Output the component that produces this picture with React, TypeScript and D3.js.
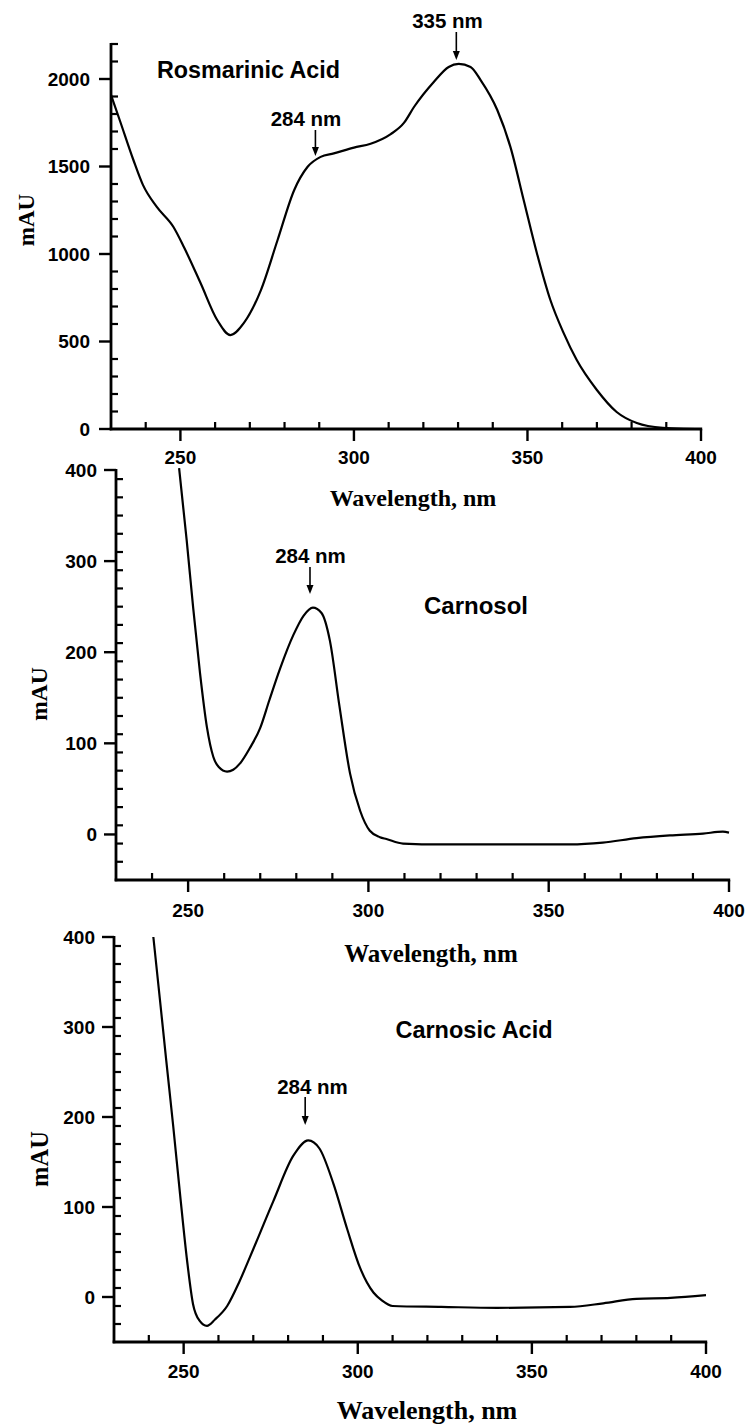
import React from "react";
import * as d3 from "d3";

// ---------- data ----------
const rosWl = [230, 232.6, 236.4, 239.2, 243.2, 248, 251, 255.8, 260.6, 264.4, 268.3, 273.2, 278, 282.8, 286.6, 290.4, 294.2, 300, 304.8, 310.6, 314.4, 317.3, 323, 327.3, 330.2, 333.6, 336.5, 341.3, 345.1, 348.9, 352.7, 356.6, 360.4, 364.2, 370, 375.7, 381.5, 389, 395, 400];
const rosVal = [1909, 1760, 1540, 1395, 1269, 1154, 1040, 834, 623, 537, 606, 794, 1080, 1366, 1497, 1555, 1575, 1608, 1630, 1685, 1749, 1840, 1983, 2069, 2086, 2069, 1994, 1823, 1611, 1309, 1006, 737, 549, 394, 223, 97, 34, 6, 1, 0];

const carnosolWl = [247.5, 249.6, 251.4, 253.3, 255.2, 257, 258.5, 260.8, 262.5, 264.4, 267, 270, 272.5, 275.5, 279.2, 282, 284.6, 287, 289.3, 292, 294.9, 297.7, 300.4, 303.2, 305, 309.6, 320, 340, 356, 365, 374.4, 383.6, 392.8, 398.3, 400];
const carnosolVal = [402, 323, 249, 177, 118, 85, 74, 69, 71, 78, 94, 117, 147, 182, 219, 240, 249, 243, 213, 140, 67, 26, 4, -3, -5, -10, -11, -11, -11, -9, -4, -1, 1, 3, 2];

const carnosicWl = [241.3, 243.2, 245, 247, 249, 251, 252.7, 254.5, 256.7, 259, 262.5, 266, 269, 275.7, 281.5, 285.8, 289, 293, 297, 300.7, 304.5, 307, 310, 324, 340, 361, 370.5, 380, 389.8, 400];
const carnosicVal = [400, 330, 263, 190, 113, 40, -8, -26, -32, -25, -10, 17, 44, 106, 157, 174, 165, 126, 75, 32, 5, -4, -10, -11, -12, -11, -7, -2, -1, 2];

const xTickLabels = [250, 300, 350, 400];
const rosYTicks = [0, 500, 1000, 1500, 2000];
const carYTicks = [0, 100, 200, 300, 400];

const compoundNames = ["Rosmarinic Acid", "Carnosol", "Carnosic Acid"];
const peakLabels = ["284 nm", "335 nm"];

// ---------- layout ----------
type Panel = {
  wl: number[];
  val: number[];
  xr: [number, number];
  yDomain: [number, number];
  yr: [number, number];
  yTicks: number[];
  yMinorStep: number;
  tickLabelY: number;
  titleY: number;
  titleX: number;
  titleSize: number;
  mauX: number;
  mauY: number;
  mauSize: number;
  yLabelGap: number;
  name: { text: string; x: number; y: number; size: number };
  arrows: { label: string; wl: number; textY: number; y0: number; y1: number; textX?: number }[];
};

const panels: Panel[] = [
  {
    wl: rosWl, val: rosVal,
    xr: [111, 701], yDomain: [0, 2200], yr: [429, 44],
    yTicks: rosYTicks, yMinorStep: 100,
    tickLabelY: 457, titleY: 498, titleX: 413, titleSize: 24,
    mauX: 26, mauY: 220, mauSize: 23, yLabelGap: 21,
    name: { text: compoundNames[0], x: 248.5, y: 70, size: 23.3 },
    arrows: [
      { label: peakLabels[0], wl: 288.9, textY: 118, y0: 130, y1: 156, textX: 306 },
      { label: peakLabels[1], wl: 329.5, textY: 20, y0: 32, y1: 60, textX: 447.5 },
    ],
  },
  {
    wl: carnosolWl, val: carnosolVal,
    xr: [116, 729], yDomain: [-50, 400], yr: [880, 470],
    yTicks: carYTicks, yMinorStep: 20,
    tickLabelY: 910, titleY: 953, titleX: 431, titleSize: 25,
    mauX: 39, mauY: 694, mauSize: 23.5, yLabelGap: 19,
    name: { text: compoundNames[1], x: 476, y: 605, size: 24 },
    arrows: [{ label: peakLabels[0], wl: 283.8, textY: 555, y0: 567, y1: 594, textX: 310.5 }],
  },
  {
    wl: carnosicWl, val: carnosicVal,
    xr: [114, 706], yDomain: [-50, 400], yr: [1342, 937],
    yTicks: carYTicks, yMinorStep: 20,
    tickLabelY: 1371, titleY: 1410, titleX: 427, titleSize: 26,
    mauX: 39, mauY: 1159, mauSize: 24.5, yLabelGap: 19,
    name: { text: compoundNames[2], x: 474, y: 1030, size: 23.5 },
    arrows: [{ label: peakLabels[0], wl: 284.9, textY: 1086, y0: 1097, y1: 1125, textX: 312.5 }],
  },
];

const SANS = "'Liberation Sans', Arial, Helvetica, sans-serif";
const SERIF = "'Liberation Serif', 'Times New Roman', serif";

function PanelView({ p }: { p: Panel }) {
  const x = d3.scaleLinear().domain([230, 400]).range(p.xr);
  const y = d3.scaleLinear().domain(p.yDomain).range(p.yr);
  const pts = p.wl.map((w, i) => [w, p.val[i]] as [number, number]);
  const line = d3
    .line<[number, number]>()
    .x((d) => x(d[0]))
    .y((d) => y(d[1]))
    .curve(d3.curveMonotoneX);

  const xMinor = d3.range(240, 400, 10).filter((v) => v % 50 !== 0);
  const yMinor = d3
    .range(p.yDomain[0], p.yDomain[1] + 0.001, p.yMinorStep)
    .filter((v) => !p.yTicks.includes(v) && v > p.yDomain[0]);

  const x0 = p.xr[0];
  const yBase = p.yr[0];
  const yTop = p.yr[1];
  const stroke = "#000";
  const MAJ = 12;
  const MIN = 7;

  return (
    <g>
      <path d={line(pts) || ""} fill="none" stroke={stroke} strokeWidth={2.2} strokeLinejoin="round" />
      <line x1={x0} x2={x0} y1={yTop - 1} y2={yBase + 1.3} stroke={stroke} strokeWidth={2.8} />
      <line x1={x0 - 1.3} x2={p.xr[1] + 1.2} y1={yBase} y2={yBase} stroke={stroke} strokeWidth={2.8} />
      {p.yTicks.map((t) => (
        <g key={"ym" + t}>
          <line x1={x0 - MAJ} x2={x0} y1={y(t)} y2={y(t)} stroke={stroke} strokeWidth={2.4} />
          <text
            x={x0 - p.yLabelGap}
            y={y(t)}
            textAnchor="end"
            dominantBaseline="central"
            fontFamily={SANS}
            fontWeight="bold"
            fontSize={19}
          >
            {t}
          </text>
        </g>
      ))}
      {yMinor.map((t) => (
        <line key={"yn" + t} x1={x0} x2={x0 + MIN} y1={y(t)} y2={y(t)} stroke={stroke} strokeWidth={2.2} />
      ))}
      {xTickLabels.map((t) => (
        <g key={"xm" + t}>
          <line x1={x(t)} x2={x(t)} y1={yBase} y2={yBase + MAJ} stroke={stroke} strokeWidth={2.4} />
          <text
            x={x(t)}
            y={p.tickLabelY}
            textAnchor="middle"
            dominantBaseline="central"
            fontFamily={SANS}
            fontWeight="bold"
            fontSize={19}
          >
            {t}
          </text>
        </g>
      ))}
      {xMinor.map((t) => (
        <line key={"xn" + t} x1={x(t)} x2={x(t)} y1={yBase} y2={yBase - MIN} stroke={stroke} strokeWidth={2.2} />
      ))}
      <text
        x={p.titleX}
        y={p.titleY}
        textAnchor="middle"
        dominantBaseline="central"
        fontFamily={SERIF}
        fontWeight="bold"
        fontSize={p.titleSize}
      >
        Wavelength, nm
      </text>
      <text
        transform={`translate(${p.mauX},${p.mauY}) rotate(-90)`}
        textAnchor="middle"
        dominantBaseline="central"
        fontFamily={SERIF}
        fontWeight="bold"
        fontSize={p.mauSize}
      >
        mAU
      </text>
      <text
        x={p.name.x}
        y={p.name.y}
        textAnchor="middle"
        dominantBaseline="central"
        fontFamily={SANS}
        fontWeight="bold"
        fontSize={p.name.size}
      >
        {p.name.text}
      </text>
      {p.arrows.map((a, i) => {
        const ax = x(a.wl);
        return (
          <g key={"a" + i}>
            <text
              x={a.textX ?? ax}
              y={a.textY}
              textAnchor="middle"
              dominantBaseline="central"
              fontFamily={SANS}
              fontWeight="bold"
              fontSize={20.5}
            >
              {a.label}
            </text>
            <line x1={ax} x2={ax} y1={a.y0} y2={a.y1 - 6} stroke={stroke} strokeWidth={1.6} />
            <path
              d={`M${ax - 3.5},${a.y1 - 9} L${ax + 3.5},${a.y1 - 9} L${ax},${a.y1} Z`}
              fill={stroke}
            />
          </g>
        );
      })}
    </g>
  );
}

export default function App() {
  return (
    <svg
      width={751}
      height={1428}
      viewBox="0 0 751 1428"
      style={{ position: "absolute", left: 0, top: 0, background: "#fff" }}
    >
      <rect x={0} y={0} width={751} height={1428} fill="#fff" />
      {panels.map((p, i) => (
        <PanelView key={i} p={p} />
      ))}
    </svg>
  );
}
